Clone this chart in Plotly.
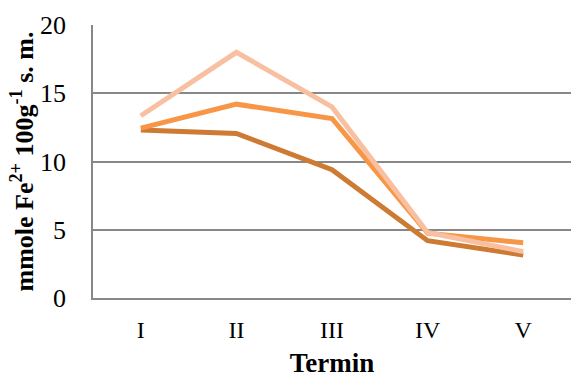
import plotly.graph_objects as go

# Sampling terms (Roman numerals) and Fe2+ content per series
terms = ["I", "II", "III", "IV", "V"]
series_dark = [12.3, 12.05, 9.4, 4.2, 3.15]
series_orange = [12.45, 14.2, 13.15, 4.75, 4.05]
series_light = [13.35, 18.0, 14.0, 4.8, 3.4]

colors = ["#CD7A33", "#F79646", "#F8C0A1"]

fig = go.Figure()
for vals, col in zip([series_dark, series_orange, series_light], colors):
    fig.add_trace(go.Scatter(
        x=terms, y=vals, mode="lines",
        line=dict(color=col, width=5),
        showlegend=False,
    ))

font_family = "Liberation Serif, Times New Roman, serif"

fig.update_layout(
    width=571, height=378,
    margin=dict(l=93, r=0, t=25, b=80),
    paper_bgcolor="white", plot_bgcolor="white",
    font=dict(family=font_family, size=24, color="black"),
    xaxis=dict(
        type="category", range=[-0.5, 4.5],
        showgrid=False, showline=True, linecolor="#888888", linewidth=1.5,
        ticks="", ticklabelstandoff=9, tickfont=dict(size=24),
        title=dict(text="<b>Termin</b>", font=dict(size=27), standoff=15),
    ),
    yaxis=dict(
        range=[0, 20], dtick=5, showgrid=True,
        gridcolor="#888888", gridwidth=1.5,
        showline=True, linecolor="#888888", linewidth=1.5,
        zeroline=False,
        # invisible outside ticks set the gap between labels and the axis
        ticks="outside", ticklen=20, tickcolor="rgba(0,0,0,0)",
        tickfont=dict(size=26),
    ),
    annotations=[dict(
        text="<b>mmole Fe<sup>2+</sup> 100g<sup>-1</sup> s. m.</b>",
        xref="paper", yref="paper", x=(23 - 93) / 478, y=0.5,
        xanchor="center", yanchor="middle", textangle=-90,
        showarrow=False, font=dict(size=26),
    )],
)

fig.write_html("out.html")
